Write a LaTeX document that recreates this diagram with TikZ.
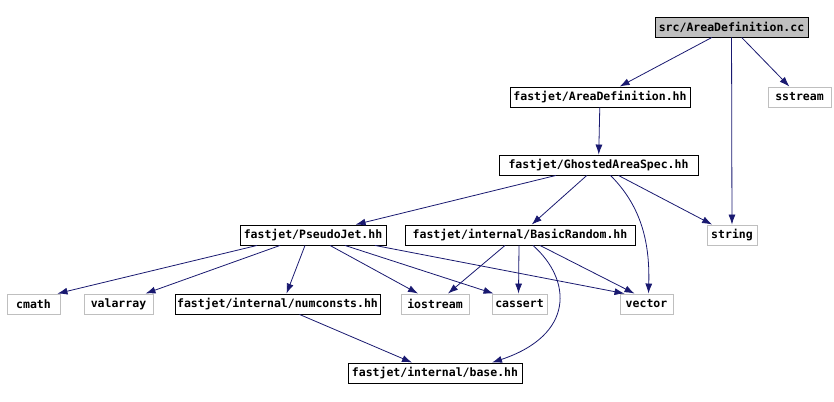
\documentclass[tikz,border=0pt]{standalone}
\usepackage{fontspec}
\setmonofont{DejaVu Sans Mono}
\usepackage{tikz}
\usetikzlibrary{arrows.meta}
\usepackage{xcolor}
\definecolor{edgeblue}{HTML}{191970}
\definecolor{sysgray}{HTML}{BFBFBF}

\begin{document}
\begin{tikzpicture}[x=1pt, y=-1pt,
        file/.style={draw=black, fill=white, line width=0.9pt, inner sep=0pt,
            minimum height=20pt, font=\fontsize{11.5}{12}\selectfont\ttfamily\bfseries},
        rootfile/.style={file, fill=sysgray},
        sysfile/.style={file, draw=sysgray},
        dep/.style={draw=edgeblue, line width=0.8pt, -{Latex[length=10pt, width=7pt]}}]
        \useasboundingbox (0, 0) rectangle (834, 401);
        % Files
        \node [rootfile, minimum width=153pt] (src) at (731.5, 27) {src/AreaDefinition.cc};
        \node [file, minimum width=180pt] (areadef) at (600, 97) {fastjet/AreaDefinition.hh};
        \node [sysfile, minimum width=63pt] (sstream) at (799.5, 97) {sstream};
        \node [file, minimum width=199pt] (ghosted) at (598.5, 165) {fastjet/GhostedAreaSpec.hh};
        \node [sysfile, minimum width=50pt] (string) at (732, 235) {string};
        \node [file, minimum width=146pt] (pseudojet) at (313, 235) {fastjet/PseudoJet.hh};
        \node [file, minimum width=230pt] (basicrandom) at (520, 235) {fastjet/internal/BasicRandom.hh};
        \node [sysfile, minimum width=53pt] (cmath) at (33.5, 304) {cmath};
        \node [sysfile, minimum width=69pt] (valarray) at (118.5, 304) {valarray};
        \node [file, minimum width=205pt] (numconsts) at (277.5, 304) {fastjet/internal/numconsts.hh};
        \node [sysfile, minimum width=68pt] (iostream) at (435, 304) {iostream};
        \node [sysfile, minimum width=55pt] (cassert) at (519.5, 304) {cassert};
        \node [sysfile, minimum width=53pt] (vector) at (646.5, 304) {vector};
        \node [file, minimum width=174pt] (base) at (435, 373) {fastjet/internal/base.hh};
        % Includes
        % 1
        \draw [dep] (src) -- (areadef);
        \draw [dep] (src) -- (string);
        \draw [dep] (src) -- (sstream);
        % 2
        \draw [dep] (areadef) -- (ghosted);
        % 3
        \draw [dep] (ghosted) -- (pseudojet);
        \draw [dep] (ghosted) -- (basicrandom);
        \draw [dep] (ghosted) -- (string);
        \draw [dep] ([xshift=12pt]ghosted.south) .. controls (640, 205) and (650, 240) .. ([xshift=2pt]vector.north);
        % 4
        \draw [dep] ([xshift=-56pt]pseudojet.south) -- ([xshift=24pt]cmath.north);
        \draw [dep] ([xshift=-33pt]pseudojet.south) -- ([xshift=27pt]valarray.north);
        \draw [dep] ([xshift=-8pt]pseudojet.south) -- ([xshift=9pt]numconsts.north);
        \draw [dep] ([xshift=17pt]pseudojet.south) -- ([xshift=-17pt]iostream.north);
        \draw [dep] ([xshift=32pt]pseudojet.south) -- ([xshift=-26pt]cassert.north);
        \draw [dep] ([xshift=62pt]pseudojet.south) -- ([xshift=-22pt]vector.north);
        % 5
        \draw [dep] ([xshift=-15pt]basicrandom.south) -- ([xshift=13pt]iostream.north);
        \draw [dep] ([xshift=-1pt]basicrandom.south) -- ([xshift=-1pt]cassert.north);
        \draw [dep] ([xshift=20pt]basicrandom.south) -- ([xshift=-12pt]vector.north);
        \draw [dep] ([xshift=13pt]basicrandom.south) .. controls (572, 280) and (575, 335) .. ([xshift=57pt]base.north);
        % 6
        \draw [dep] ([xshift=22pt]numconsts.south) -- ([xshift=-23pt]base.north);
\end{tikzpicture}
\end{document}
